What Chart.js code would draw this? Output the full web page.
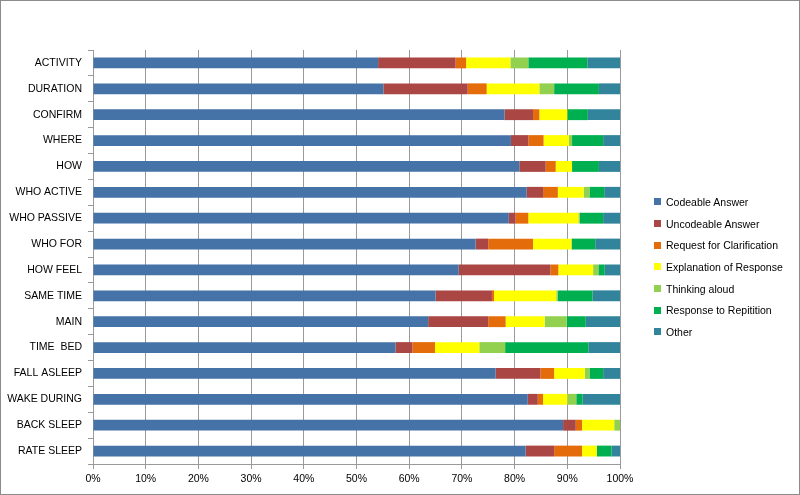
<!DOCTYPE html>
<html>
<head>
<meta charset="utf-8">
<script src="https://cdn.jsdelivr.net/npm/chart.js@4"></script>
<style>
    body { margin: 0; background: #fff; }
    #wrap { position: relative; width: 800px; height: 495px; }
    #frame { position: absolute; inset: 0; border: 1px solid #8c8c8c; pointer-events: none; }
    #legend { position: absolute; left: 654px; top: 191px; font: 10.5px "Liberation Sans", Arial, sans-serif; color: #000; }
    .item { height: 21.7px; display: flex; align-items: center; white-space: nowrap; }
    .box { width: 7px; height: 7px; margin-right: 5px; }
</style>
</head>
<body>
<div id="wrap">
    <canvas id="chart" width="800" height="495"></canvas>
    <div id="legend"></div>
    <div id="frame"></div>
</div>
<script>
const categories = ['ACTIVITY', 'DURATION', 'CONFIRM', 'WHERE', 'HOW', 'WHO ACTIVE', 'WHO PASSIVE', 'WHO FOR',
    'HOW FEEL', 'SAME TIME', 'MAIN', 'TIME  BED', 'FALL ASLEEP', 'WAKE DURING', 'BACK SLEEP', 'RATE SLEEP'];

const codeable      = [54.1, 55.1, 78.1, 79.3, 80.9, 82.3, 78.9, 72.6, 69.4, 65.0, 63.6, 57.4, 76.4, 82.5, 89.2, 82.1];
const uncodeable    = [14.7, 16.0, 5.4, 3.3, 5.0, 3.1, 1.3, 2.4, 17.4, 10.7, 11.4, 3.2, 8.5, 1.9, 2.4, 5.4];
const clarification = [2.0, 3.6, 1.2, 2.9, 1.9, 2.8, 2.4, 8.5, 1.5, 0.4, 3.3, 4.3, 2.6, 1.0, 1.2, 5.3];
const explanation   = [8.4, 10.0, 5.3, 4.8, 3.1, 4.9, 9.5, 7.3, 6.6, 11.8, 7.4, 8.4, 5.8, 4.6, 6.1, 2.8];
const thinking      = [3.4, 2.8, 0, 0.6, 0, 1.1, 0.3, 0, 1.0, 0.3, 4.2, 4.9, 0.9, 1.7, 1.1, 0];
const repetition    = [11.2, 8.5, 3.9, 5.9, 5.1, 2.8, 4.4, 4.5, 1.2, 6.6, 3.6, 15.8, 2.6, 1.2, 0, 2.8];
const other         = [6.2, 4.0, 6.1, 3.2, 4.0, 3.0, 3.2, 4.7, 2.9, 5.2, 6.5, 6.0, 3.2, 7.1, 0, 1.6];

const seriesNames = ['Codeable Answer', 'Uncodeable Answer', 'Request for Clarification',
    'Explanation of Response', 'Thinking aloud', 'Response to Repitition', 'Other'];
const seriesData = [codeable, uncodeable, clarification, explanation, thinking, repetition, other];
const colors = ['#4572A7', '#AA4643', '#E46C0A', '#FFFF00', '#92D050', '#00B050', '#31849B'];

const FONT = { family: '"Liberation Sans", Arial, sans-serif', size: 10.5 };

const chart = new Chart(document.getElementById('chart'), {
    type: 'bar',
    data: {
        labels: categories,
        datasets: seriesNames.map((name, i) => ({
            label: name,
            data: seriesData[i],
            backgroundColor: colors[i],
            borderWidth: 0,
            barPercentage: 0.42,
            categoryPercentage: 1
        }))
    },
    options: {
        indexAxis: 'y',
        responsive: false,
        animation: false,
        layout: { padding: { top: 50, right: 180, left: 0, bottom: 0 } },
        plugins: { legend: { display: false }, tooltip: { enabled: false } },
        scales: {
            x: {
                stacked: true, min: 0, max: 100,
                ticks: { stepSize: 10, color: '#000', font: FONT, padding: 4, callback: v => v + '%' },
                grid: { color: '#9a9a9a', tickLength: 5, tickColor: '#9a9a9a' },
                border: { color: '#9a9a9a' },
                afterFit: s => { s.height = 31; }
            },
            y: {
                stacked: true,
                ticks: { color: '#000', font: FONT, padding: 6, autoSkip: false },
                grid: { offset: true, drawOnChartArea: false, tickLength: 5, color: '#9a9a9a' },
                border: { color: '#9a9a9a' },
                afterFit: s => { s.width = 93; }
            }
        }
    }
});

// legend on the right, built from the datasets
const legend = document.getElementById('legend');
chart.data.datasets.forEach(ds => {
    legend.innerHTML += `<div class="item"><span class="box" style="background:${ds.backgroundColor}"></span>${ds.label}</div>`;
});
</script>
</body>
</html>
